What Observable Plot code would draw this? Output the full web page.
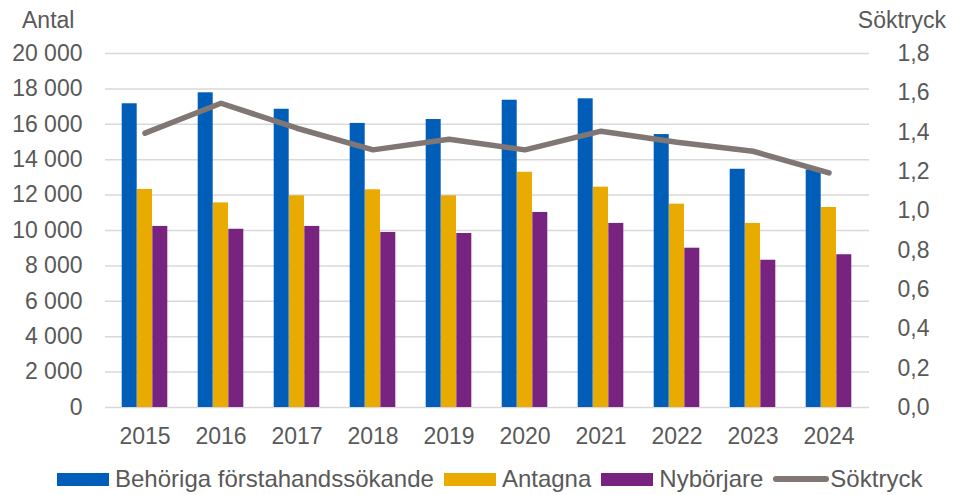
<!DOCTYPE html>
<html><head><meta charset="utf-8">
<script src="https://cdn.jsdelivr.net/npm/d3@7"></script>
<script src="https://cdn.jsdelivr.net/npm/@observablehq/plot@0.6"></script>
<style>
body{margin:0;background:#fff;font-family:"Liberation Sans",Arial,sans-serif;color:#595959}
#wrap{position:relative;width:953px;height:495px;overflow:hidden}
#chart{position:absolute;left:0;top:0}
.lbl{position:absolute;font-size:23px;line-height:23px;color:#595959;white-space:nowrap}
#legend{position:absolute;left:57px;top:467px;display:flex;align-items:center;font-size:24px;line-height:24px;white-space:nowrap;color:#595959}
.item{display:flex;align-items:center;margin-right:10px}
.sw{width:52px;height:13px;margin-right:6px}
.ln{width:56px;height:6px;border-radius:3px;margin-right:1px}
</style>
</head><body>
<div id="wrap">
  <div id="chart"></div>
  <div class="lbl" style="left:22px;top:9px">Antal</div>
  <div class="lbl" style="right:7px;top:9px">Söktryck</div>
  <div id="legend"></div>
</div>
<script>
const years = ["2015","2016","2017","2018","2019","2020","2021","2022","2023","2024"];
const behoriga = [17160,17780,16850,16050,16270,17360,17440,15420,13460,13430];
const antagna = [12320,11560,11960,12300,11960,13290,12450,11490,10400,11300];
const nyborjare = [10230,10070,10230,9890,9830,11020,10400,9000,8320,8630];
const soktryck = [1.395,1.547,1.420,1.310,1.364,1.310,1.405,1.349,1.303,1.193];
const leftTicks = [0,2000,4000,6000,8000,10000,12000,14000,16000,18000,20000];
const rightTicks = [0,0.2,0.4,0.6,0.8,1.0,1.2,1.4,1.6,1.8];
const seriesNames = ["Behöriga förstahandssökande","Antagna","Nybörjare","Söktryck"];
const colors = ["#005EB8","#EAAB00","#77237F","#807674"];

const MAX_L = 20000, MAX_R = 1.8;
const k = MAX_L / MAX_R;
const loc = d3.formatLocale({decimal:",", thousands:" ", grouping:[3], currency:["",""]});
const fmtL = loc.format(",d");
const fmtR = loc.format(".1f");

const data = years.map((y,i)=>({year:y, behoriga:behoriga[i], antagna:antagna[i], nyborjare:nyborjare[i], soktryck:soktryck[i]}));
const barW = 15.3;

const chart = Plot.plot({
  width:953, height:455,
  marginLeft:105, marginRight:84, marginTop:53, marginBottom:48,
  style:{fontFamily:"'Liberation Sans', Arial, sans-serif", fontSize:"23px", color:"#595959", background:"white", overflow:"visible"},
  x:{type:"band", domain:years, paddingInner:0.8, paddingOuter:0.4, label:null},
  y:{domain:[0,MAX_L], label:null},
  marks:[
    Plot.gridY(leftTicks, {stroke:"#D9D9D9", strokeOpacity:1, strokeWidth:1.5}),
    Plot.axisY(leftTicks, {anchor:"left", tickSize:0, tickPadding:23, tickFormat:fmtL, label:null}),
    Plot.axisY(rightTicks.map(v=>v*k), {anchor:"right", tickSize:0, tickPadding:28, tickFormat:d=>fmtR(d/k), label:null}),
    Plot.axisX({tickSize:0, tickPadding:20, label:null}),
    Plot.barY(data, {x:"year", y:"behoriga", fill:colors[0], dx:-barW}),
    Plot.barY(data, {x:"year", y:"antagna", fill:colors[1]}),
    Plot.barY(data, {x:"year", y:"nyborjare", fill:colors[2], dx:barW}),
    Plot.line(data, {x:"year", y:d=>d.soktryck*k, stroke:colors[3], strokeWidth:5.5, strokeLinecap:"round", strokeLinejoin:"round"})
  ]
});
document.getElementById("chart").appendChild(chart);

const legend = document.getElementById("legend");
seriesNames.forEach((name,i)=>{
  const it = document.createElement("div");
  it.className = "item";
  const sw = document.createElement("div");
  sw.className = i===3 ? "ln" : "sw";
  sw.style.background = colors[i];
  const t = document.createElement("span");
  t.textContent = name;
  it.appendChild(sw); it.appendChild(t);
  legend.appendChild(it);
});
</script>
</body></html>
